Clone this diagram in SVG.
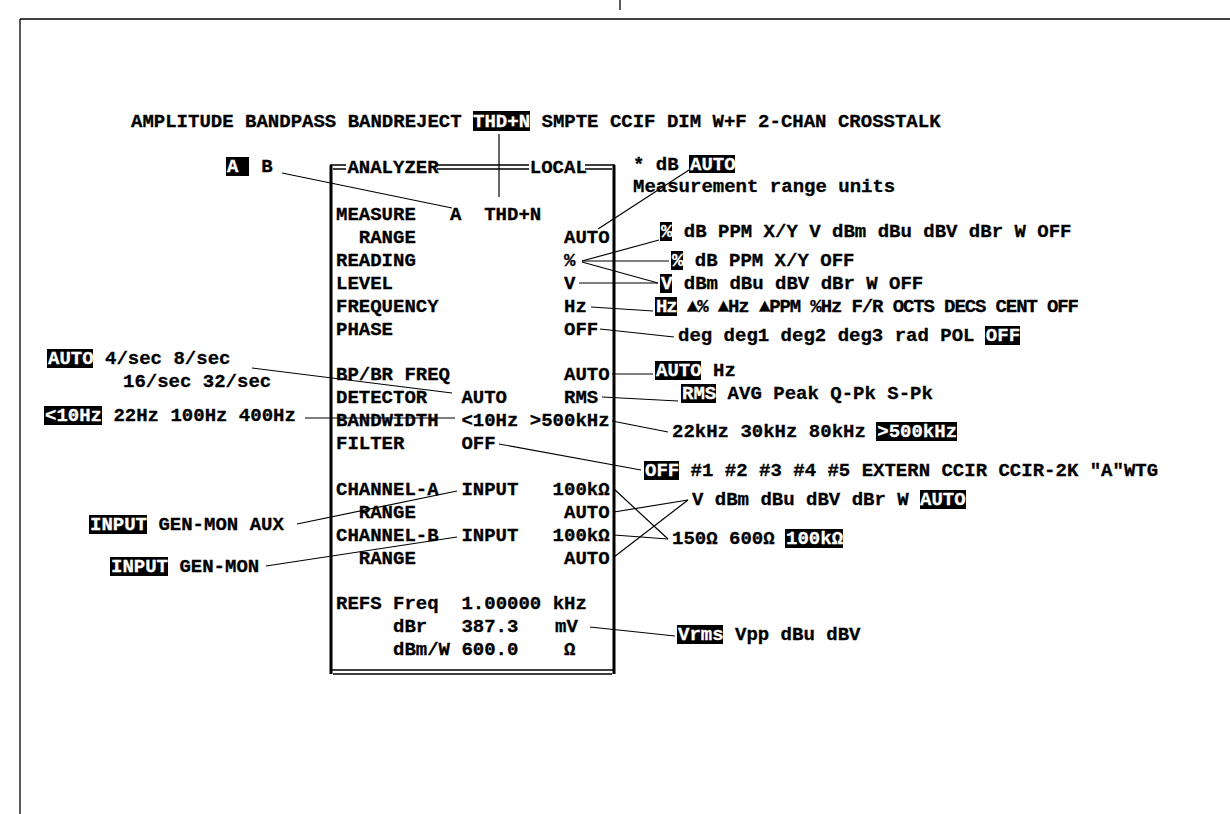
<svg xmlns="http://www.w3.org/2000/svg" width="1230" height="814" viewBox="0 0 1230 814">
<style>
text{font-family:"Liberation Mono","DejaVu Sans Mono",monospace;font-weight:bold;font-size:19px;fill:#000;stroke:#000;stroke-width:0.3;white-space:pre}
.hl{fill:#fff;stroke:#fff}
.box{fill:#000}
.ln{stroke:#000;stroke-width:1.2;fill:none}
.bd{stroke:#000;fill:none}
</style>
<rect width="1230" height="814" fill="#fff"/>
<g id="frame">
<line class="bd" x1="20" y1="19" x2="1230" y2="19" stroke-width="1.3"/>
<line class="bd" x1="20" y1="19" x2="20" y2="814" stroke-width="1.3"/>
<line class="bd" x1="620" y1="0" x2="620" y2="10" stroke-width="1.3"/>
</g>
<g id="title">
<rect class="box" x="473" y="111" width="57" height="20"/>
<text x="131" y="127">AMPLITUDE BANDPASS BANDREJECT <tspan class="hl">THD+N</tspan> SMPTE CCIF DIM W+F 2-CHAN CROSSTALK</text>
</g>
<g id="channel-select">
<rect class="box" x="226" y="157" width="23" height="19"/>
<text x="227" y="172"><tspan class="hl">A</tspan>  B</text>
</g>
<g id="panel">
<path class="bd" stroke-width="1.4" d="M330 165H346M437 165H529M585 165H615M333 169H346M437 169H529M585 169H612"/>
<path class="bd" stroke-width="1.4" d="M330 670H615M333 674H612"/>
<line class="bd" x1="331" y1="165" x2="331" y2="674" stroke-width="3"/>
<line class="bd" x1="614" y1="165" x2="614" y2="674" stroke-width="3"/>
<text x="347.4" y="173">ANALYZER</text>
<text x="529.8" y="173">LOCAL</text>
<text x="336" y="220">MEASURE</text><text x="450" y="220">A  THD+N</text>
<text x="358.8" y="242.9">RANGE</text><text x="564" y="242.9">AUTO</text>
<text x="336" y="265.8">READING</text><text x="564" y="265.8">%</text>
<text x="336" y="288.7">LEVEL</text><text x="564" y="288.7">V</text>
<text x="336" y="311.6">FREQUENCY</text><text x="564" y="311.6">Hz</text>
<text x="336" y="334.5">PHASE</text><text x="564" y="334.5">OFF</text>
<text x="336" y="380.3">BP/BR FREQ</text><text x="564" y="380.3">AUTO</text>
<text x="336" y="403.2">DETECTOR</text><text x="461.4" y="403.2">AUTO</text><text x="564" y="403.2">RMS</text>
<text x="336" y="426.1">BANDWIDTH</text><text x="461.4" y="426.1">&lt;10Hz</text><text x="529.8" y="426.1">&gt;500kHz</text>
<text x="336" y="449">FILTER</text><text x="461.4" y="449">OFF</text>
<text x="336" y="494.8">CHANNEL-A</text><text x="461.4" y="494.8">INPUT</text><text x="552.6" y="494.8">100kΩ</text>
<text x="358.8" y="517.7">RANGE</text><text x="564" y="517.7">AUTO</text>
<text x="336" y="540.6">CHANNEL-B</text><text x="461.4" y="540.6">INPUT</text><text x="552.6" y="540.6">100kΩ</text>
<text x="358.8" y="563.5">RANGE</text><text x="564" y="563.5">AUTO</text>
<text x="336" y="609.3">REFS Freq  1.00000 kHz</text>
<text x="393" y="632.2">dBr</text><text x="461.4" y="632.2">387.3</text><text x="555" y="632.2">mV</text>
<text x="393" y="655.1">dBm/W</text><text x="461.4" y="655.1">600.0</text><text x="564" y="655.1">Ω</text>
</g>
<g id="opt-measure-units">
<rect class="box" x="689" y="155" width="46" height="18"/>
<text x="633" y="170">* dB <tspan class="hl">AUTO</tspan></text>
<text x="633" y="192">Measurement range units</text>
</g>
<g id="opt-range">
<rect class="box" x="660" y="222" width="12" height="19"/>
<text x="661" y="237"><tspan class="hl">%</tspan> dB PPM X/Y V dBm dBu dBV dBr W OFF</text>
</g>
<g id="opt-reading">
<rect class="box" x="671" y="251" width="12" height="19"/>
<text x="672" y="265.8"><tspan class="hl">%</tspan> dB PPM X/Y OFF</text>
</g>
<g id="opt-level">
<rect class="box" x="660" y="274" width="12" height="19"/>
<text x="661" y="288.7"><tspan class="hl">V</tspan> dBm dBu dBV dBr W OFF</text>
</g>
<g id="opt-frequency">
<rect class="box" x="655" y="297" width="22" height="19"/>
<text x="656" y="312" textLength="423" lengthAdjust="spacing"><tspan class="hl">Hz</tspan> ▲% ▲Hz ▲PPM %Hz F/R OCTS DECS CENT OFF</text>
</g>
<g id="opt-phase">
<rect class="box" x="985" y="326" width="35" height="19"/>
<text x="678" y="341">deg deg1 deg2 deg3 rad POL <tspan class="hl">OFF</tspan></text>
</g>
<g id="opt-bpbr">
<rect class="box" x="655" y="361" width="46" height="19"/>
<text x="656" y="376"><tspan class="hl">AUTO</tspan> Hz</text>
</g>
<g id="opt-detector">
<rect class="box" x="681" y="384" width="35" height="19"/>
<text x="682" y="399"><tspan class="hl">RMS</tspan> AVG Peak Q-Pk S-Pk</text>
</g>
<g id="opt-bandwidth-hi">
<rect class="box" x="876" y="422" width="81" height="19"/>
<text x="672" y="437">22kHz 30kHz 80kHz <tspan class="hl">&gt;500kHz</tspan></text>
</g>
<g id="opt-filter">
<rect class="box" x="644" y="461" width="35" height="19"/>
<text x="645" y="476"><tspan class="hl">OFF</tspan> #1 #2 #3 #4 #5 EXTERN CCIR CCIR-2K "A"WTG</text>
</g>
<g id="opt-input-range">
<rect class="box" x="920" y="490" width="46" height="19"/>
<text x="692" y="505">V dBm dBu dBV dBr W <tspan class="hl">AUTO</tspan></text>
</g>
<g id="opt-impedance">
<rect class="box" x="785" y="529" width="58" height="19"/>
<text x="672" y="544">150Ω 600Ω <tspan class="hl">100kΩ</tspan></text>
</g>
<g id="opt-ref-units">
<rect class="box" x="677" y="625" width="46" height="19"/>
<text x="678" y="640"><tspan class="hl">Vrms</tspan> Vpp dBu dBV</text>
</g>
<g id="opt-detector-rate">
<rect class="box" x="47" y="349" width="46" height="19"/>
<text x="48" y="364"><tspan class="hl">AUTO</tspan> 4/sec 8/sec</text>
<text x="123" y="387">16/sec 32/sec</text>
</g>
<g id="opt-bandwidth-lo">
<rect class="box" x="44" y="406" width="58" height="19"/>
<text x="45" y="421"><tspan class="hl">&lt;10Hz</tspan> 22Hz 100Hz 400Hz</text>
</g>
<g id="opt-input-a">
<rect class="box" x="89" y="515" width="58" height="19"/>
<text x="90" y="530"><tspan class="hl">INPUT</tspan> GEN-MON AUX</text>
</g>
<g id="opt-input-b">
<rect class="box" x="110" y="557" width="58" height="19"/>
<text x="111" y="572"><tspan class="hl">INPUT</tspan> GEN-MON</text>
</g>
<g id="connectors">
<line class="ln" x1="499" y1="134" x2="499" y2="197"/>
<line class="ln" x1="282" y1="173" x2="452" y2="208"/>
<line class="ln" x1="598" y1="229" x2="689" y2="170"/>
<line class="ln" x1="582" y1="261" x2="659" y2="240"/>
<line class="ln" x1="582" y1="261" x2="669" y2="261"/>
<line class="ln" x1="582" y1="262" x2="658" y2="283"/>
<line class="ln" x1="579" y1="283" x2="658" y2="283"/>
<line class="ln" x1="591" y1="307" x2="653" y2="311"/>
<line class="ln" x1="600" y1="329" x2="674" y2="337"/>
<line class="ln" x1="612" y1="374" x2="653" y2="374"/>
<line class="ln" x1="602" y1="397" x2="678" y2="401"/>
<line class="ln" x1="612" y1="421" x2="668" y2="432"/>
<line class="ln" x1="499" y1="444" x2="641" y2="470"/>
<line class="ln" x1="614" y1="489" x2="668" y2="539"/>
<line class="ln" x1="614" y1="512" x2="688" y2="500"/>
<line class="ln" x1="614" y1="535" x2="668" y2="539"/>
<line class="ln" x1="614" y1="557" x2="688" y2="500"/>
<line class="ln" x1="590" y1="627" x2="675" y2="636"/>
<line class="ln" x1="252" y1="368" x2="452" y2="393"/>
<line class="ln" x1="305" y1="418" x2="455" y2="418"/>
<line class="ln" x1="297" y1="524" x2="457" y2="491"/>
<line class="ln" x1="266" y1="566" x2="457" y2="537"/>
</g>
</svg>
